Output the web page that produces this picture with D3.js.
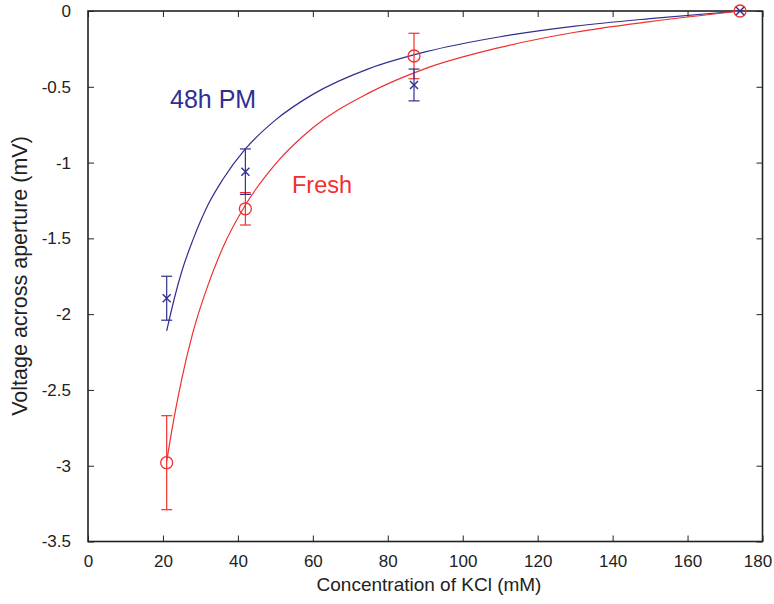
<!DOCTYPE html>
<html lang="en">
  <head>
    <meta charset="UTF-8" />
    <title>KCl voltage</title>
    <script src="https://d3js.org/d3.v7.min.js"></script>
    <style>
      body { margin: 0; background: #fff; }
      text { font-family: 'Liberation Sans', Arial, sans-serif; }
    </style>
  </head>
  <body>
    <svg width="774" height="604"></svg>
  </body>

  <script>
    // measured points
    var conc = [21, 42, 87, 174]
    var freshV = [-2.98, -1.305, -0.297, 0]
    var freshErr = [0.31, 0.107, 0.15, 0]
    var pmV = [-1.895, -1.06, -0.488, 0]
    var pmErr = [0.145, 0.15, 0.105, 0]

    // fitted curves
    var curveX = [21, 23, 25, 28, 32, 36, 42, 50, 60, 75, 90, 110, 130, 150, 174]
    var freshFit = [-2.97, -2.68, -2.43, -2.12, -1.81, -1.56, -1.28, -1.01, -0.77, -0.54, -0.38, -0.24, -0.14, -0.07, 0]
    var pmFit = [-2.11, -1.9, -1.72, -1.51, -1.28, -1.11, -0.91, -0.72, -0.55, -0.38, -0.27, -0.17, -0.1, -0.05, 0]

    var xTicks = [0, 20, 40, 60, 80, 100, 120, 140, 160, 180]
    var yTicks = [0, -0.5, -1, -1.5, -2, -2.5, -3, -3.5]

    var red = '#f0302e'
    var blue = '#2f2f90'

    var svg = d3.select('svg')
    var pLeft = 88, pRight = 762.5, pTop = 11, pBottom = 541.5

    var x = d3.scaleLinear().domain([0, 180]).range([pLeft, pRight])
    var y = d3.scaleLinear().domain([-3.5, 0]).range([pBottom, pTop])

    // axes with inward ticks on all four sides
    function fmt(d) { return String(d) }
    var xAxis = svg.append('g').attr('transform', 'translate(0,' + pBottom + ')')
      .call(d3.axisBottom(x).tickValues(xTicks).tickSizeInner(-6).tickSizeOuter(0).tickPadding(13.5).tickFormat(fmt))
      .call(function (g) { g.select('.domain').remove() })
    svg.append('g').attr('transform', 'translate(0,' + pTop + ')')
      .call(d3.axisTop(x).tickValues(xTicks).tickSizeInner(-6).tickSizeOuter(0).tickFormat(''))
      .call(function (g) { g.select('.domain').remove() })
    svg.append('g').attr('transform', 'translate(' + pLeft + ',0)')
      .call(d3.axisLeft(y).tickValues(yTicks).tickSizeInner(-6).tickSizeOuter(0).tickPadding(17).tickFormat(fmt))
      .call(function (g) { g.select('.domain').remove() })
    svg.append('g').attr('transform', 'translate(' + pRight + ',0)')
      .call(d3.axisRight(y).tickValues(yTicks).tickSizeInner(-6).tickSizeOuter(0).tickFormat(''))
      .call(function (g) { g.select('.domain').remove() })

    svg.selectAll('.tick line').attr('stroke', '#222')
    svg.selectAll('.tick text').attr('font-size', 17).attr('fill', '#222')
      .attr('font-family', "'Liberation Sans', Arial, sans-serif")
    // last label sits a bit inside, like the original
    xAxis.selectAll('.tick text').filter(function (d) { return d === 180 }).attr('x', -5)

    svg.append('rect')
      .attr('x', pLeft).attr('y', pTop)
      .attr('width', pRight - pLeft).attr('height', pBottom - pTop)
      .attr('fill', 'none').attr('stroke', '#222').attr('stroke-width', 1.6)

    // fit curves
    var line = d3.line()
      .x(function (d) { return x(d[0]) })
      .y(function (d) { return y(d[1]) })
      .curve(d3.curveMonotoneX)

    svg.append('path')
      .attr('d', line(d3.zip(curveX, pmFit)))
      .attr('fill', 'none').attr('stroke', blue).attr('stroke-width', 1.2)
    svg.append('path')
      .attr('d', line(d3.zip(curveX, freshFit)))
      .attr('fill', 'none').attr('stroke', red).attr('stroke-width', 1.2)

    // error bars
    function errorBars(vals, errs, color) {
      var g = svg.append('g').attr('stroke', color).attr('stroke-width', 1.2)
      conc.forEach(function (c, i) {
        if (!errs[i]) return
        var cx = x(c), y1 = y(vals[i] + errs[i]), y2 = y(vals[i] - errs[i])
        g.append('line').attr('x1', cx).attr('x2', cx).attr('y1', y1).attr('y2', y2)
        g.append('line').attr('x1', cx - 5.5).attr('x2', cx + 5.5).attr('y1', y1).attr('y2', y1)
        g.append('line').attr('x1', cx - 5.5).attr('x2', cx + 5.5).attr('y1', y2).attr('y2', y2)
      })
    }
    errorBars(freshV, freshErr, red)
    errorBars(pmV, pmErr, blue)

    // markers
    svg.append('g').selectAll('circle')
      .data(d3.zip(conc, freshV))
      .enter().append('circle')
      .attr('cx', function (d) { return x(d[0]) })
      .attr('cy', function (d) { return y(d[1]) })
      .attr('r', 6)
      .attr('fill', 'none').attr('stroke', red).attr('stroke-width', 1.3)

    svg.append('g').selectAll('path')
      .data(d3.zip(conc, pmV))
      .enter().append('path')
      .attr('transform', function (d) { return 'translate(' + x(d[0]) + ',' + y(d[1]) + ')' })
      .attr('d', 'M-4,-4L4,4M-4,4L4,-4')
      .attr('fill', 'none').attr('stroke', blue).attr('stroke-width', 1.4)

    // labels
    svg.append('text').attr('x', 170).attr('y', 108)
      .attr('font-size', 25).attr('fill', blue).text('48h PM')
    svg.append('text').attr('x', 292).attr('y', 193)
      .attr('font-size', 23.5).attr('fill', red).text('Fresh')

    svg.append('text')
      .attr('x', 429).attr('y', 591)
      .attr('text-anchor', 'middle').attr('font-size', 19).attr('fill', '#222')
      .text('Concentration of KCl (mM)')
    svg.append('text')
      .attr('transform', 'translate(26.5,276) rotate(-90)')
      .attr('text-anchor', 'middle').attr('font-size', 21.5).attr('fill', '#222')
      .text('Voltage across aperture (mV)')
  </script>
</html>
